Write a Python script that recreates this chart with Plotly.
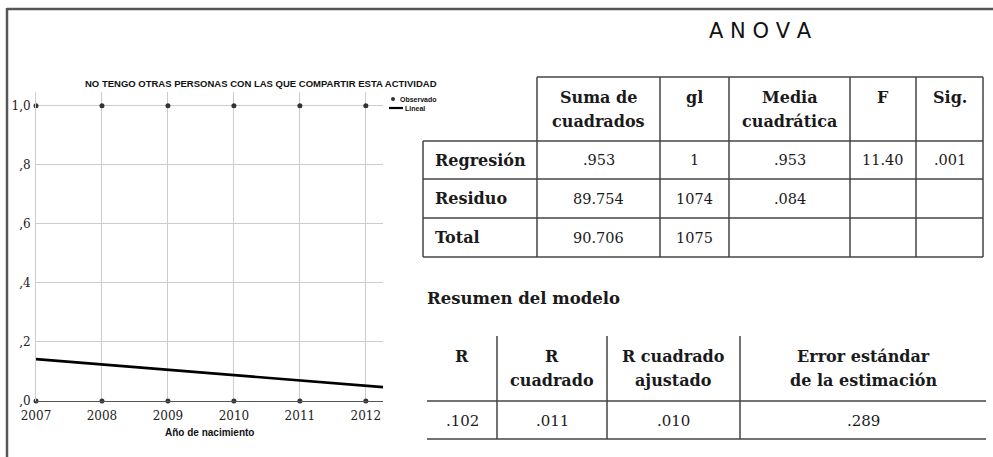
import plotly.graph_objects as go

# ---------------- data ----------------
years = [2007, 2008, 2009, 2010, 2011, 2012]
observado_uno = [1.0, 1.0, 1.0, 1.0, 1.0, 1.0]
observado_cero = [0.0, 0.0, 0.0, 0.0, 0.0, 0.0]
lineal_x = [2007, 2012.26]
lineal_y = [0.142, 0.047]
y_ticks = [0, 0.2, 0.4, 0.6, 0.8, 1.0]
y_ticklabels = [",0", ",2", ",4", ",6", ",8", "1,0"]
x_ticklabels = ["2007", "2008", "2009", "2010", "2011", "2012"]

chart_title = "NO TENGO OTRAS PERSONAS CON LAS QUE COMPARTIR ESTA ACTIVIDAD"
x_title = "Año de nacimiento"
legend_labels = ["Observado", "Lineal"]

anova_title = "ANOVA"
anova_cols = [["Suma de", "cuadrados"], ["gl"], ["Media", "cuadrática"], ["F"], ["Sig."]]
anova_rows = ["Regresión", "Residuo", "Total"]
anova_suma = [".953", "89.754", "90.706"]
anova_gl = ["1", "1074", "1075"]
anova_media = [".953", ".084", ""]
anova_f = ["11.40", "", ""]
anova_sig = [".001", "", ""]

resumen_title = "Resumen del modelo"
resumen_cols = [["R"], ["R", "cuadrado"], ["R cuadrado", "ajustado"], ["Error estándar", "de la estimación"]]
resumen_vals = [".102", ".011", ".010", ".289"]

# ---------------- geometry helpers ----------------
W, H = 993, 457
def X(px):
    return px / W
def Y(py):
    return 1 - py / H

SERIF = "DejaVu Serif, Liberation Serif, serif"
SANS = "Liberation Sans, Arial, sans-serif"
LINE = "#444444"

fig = go.Figure()

fig.add_trace(go.Scatter(
    x=years + years, y=observado_uno + observado_cero, mode="markers",
    marker=dict(color="#333333", size=5), cliponaxis=False, showlegend=False,
    name=legend_labels[0]))
fig.add_trace(go.Scatter(
    x=lineal_x, y=lineal_y, mode="lines", line=dict(color="black", width=2.6),
    cliponaxis=False, showlegend=False, name=legend_labels[1]))

fig.update_layout(
    width=W, height=H, margin=dict(l=0, r=0, t=0, b=0, autoexpand=False),
    paper_bgcolor="white", plot_bgcolor="white", showlegend=False,
    xaxis=dict(domain=[X(36), X(383)], range=[2007, 2012.26], tickvals=years,
               ticktext=x_ticklabels, showgrid=True, gridcolor="#cccccc", gridwidth=1,
               zeroline=False, showline=True, linecolor="#555555", linewidth=1.2,
               ticks="", ticklabelstandoff=3, automargin=False,
               tickfont=dict(family=SERIF, size=12, color="#222")),
    yaxis=dict(domain=[Y(401), Y(92)], range=[0, 1.047], tickvals=y_ticks,
               ticktext=y_ticklabels, showgrid=True, gridcolor="#cccccc", gridwidth=1,
               zeroline=False, showline=True, linecolor="#cccccc", ticks="",
               ticklabelstandoff=2, automargin=False,
               tickfont=dict(family=SERIF, size=12, color="#222")),
)

shapes = []
ann = []

def text(x, y, s, size, family=SERIF, bold=False, anchor="center", color="#1a1a1a"):
    if bold:
        s = "<b>" + s + "</b>"
    ann.append(dict(x=X(x), y=Y(y), xref="paper", yref="paper", text=s, showarrow=False,
                    xanchor=anchor, yanchor="middle",
                    font=dict(family=family, size=size, color=color)))

def hline(x0, x1, y, w=1.5, c=LINE):
    shapes.append(dict(type="line", xref="paper", yref="paper", x0=X(x0), x1=X(x1),
                       y0=Y(y), y1=Y(y), line=dict(color=c, width=w)))

def vline(x, y0, y1, w=1.5, c=LINE):
    shapes.append(dict(type="line", xref="paper", yref="paper", x0=X(x), x1=X(x),
                       y0=Y(y0), y1=Y(y1), line=dict(color=c, width=w)))

# outer frame
hline(7, W, 9, w=2.5, c="#555555")
vline(7, 8, H, w=2.5, c="#555555")

# chart title, x title, legend
text(261, 83, chart_title, 9.5, family=SANS, bold=True, color="#111")
text(209, 432, x_title, 10, family=SANS, bold=True, color="#111")
shapes.append(dict(type="circle", xref="paper", yref="paper",
                   x0=X(391), x1=X(395), y0=Y(97), y1=Y(101),
                   fillcolor="#333", line=dict(color="#333", width=0)))
hline(389, 403, 108, w=2.2, c="black")
text(398, 99, legend_labels[0], 7, family=SANS, bold=True, anchor="left", color="#111")
text(403, 108, legend_labels[1], 7, family=SANS, bold=True, anchor="left", color="#111")

# ANOVA
text(760, 31, " ".join(anova_title), 21, family="DejaVu Sans, sans-serif", color="#111")
cx = [423, 537, 660, 729, 850, 916, 983]
ry = [77, 141, 179, 218, 257]
hline(cx[1], cx[-1], ry[0])
for x in cx[1:]:
    vline(x, ry[0], ry[-1])
vline(cx[0], ry[1], ry[-1])
for y in ry[1:]:
    hline(cx[0], cx[-1], y)
for i, lines in enumerate(anova_cols):
    mid = (cx[i + 1] + cx[i + 2]) / 2
    for j, s in enumerate(lines):
        text(mid, 97 + 25 * j, s, 16, bold=True)
columns = [anova_suma, anova_gl, anova_media, anova_f, anova_sig]
for r, label in enumerate(anova_rows):
    ymid = (ry[r + 1] + ry[r + 2]) / 2
    text(433, ymid, label, 16, bold=True, anchor="left")
    for c, col in enumerate(columns):
        if col[r]:
            text((cx[c + 1] + cx[c + 2]) / 2, ymid, col[r], 14.5)

# Resumen del modelo
text(425, 298, resumen_title, 16.5, bold=True, anchor="left")
rx = [427, 497, 607, 740, 986]
hline(rx[0], rx[-1], 401)
hline(rx[0], rx[-1], 439)
for x in rx[1:-1]:
    vline(x, 336, 439)
for i, lines in enumerate(resumen_cols):
    mid = (rx[i] + rx[i + 1]) / 2
    for j, s in enumerate(lines):
        text(mid, 356 + 24 * j, s, 16, bold=True)
    text(mid, 421, resumen_vals[i], 15)

fig.update_layout(shapes=shapes, annotations=ann)
fig.write_html("out.html", config={"displayModeBar": False},
               post_script="document.body.style.margin='0';document.body.style.overflow='hidden';")
